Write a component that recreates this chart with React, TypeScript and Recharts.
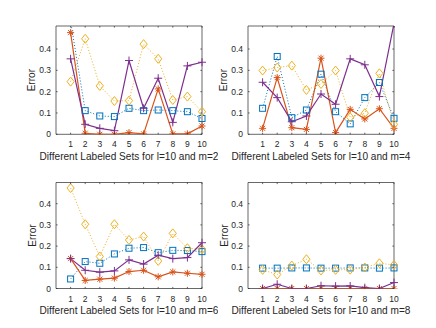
import { Label, Line, LineChart, ReferenceArea, XAxis, YAxis } from "recharts";

const sets = [1, 2, 3, 4, 5, 6, 7, 8, 9, 10];
const xTicks = [1, 2, 3, 4, 5, 6, 7, 8, 9, 10];
const yTicks = [0, 0.1, 0.2, 0.3, 0.4];

// m=2
const squareM2 = [0.53, 0.111, 0.086, 0.083, 0.122, 0.111, 0.114, 0.111, 0.106, 0.074];
const asteriskM2 = [0.477, 0.005, 0, 0, 0.008, 0.002, 0.213, 0.002, 0.002, 0.039];
const diamondM2 = [0.247, 0.448, 0.227, 0.156, 0.158, 0.423, 0.354, 0.161, 0.177, 0.106];
const plusM2 = [0.354, 0.047, 0.028, 0.017, 0.346, 0.122, 0.263, 0.056, 0.321, 0.338];

// m=4
const squareM4 = [0.122, 0.365, 0.078, 0.114, 0.282, 0.106, 0.049, 0.172, 0.243, 0.075];
const asteriskM4 = [0.028, 0.266, 0.031, 0.023, 0.357, 0.008, 0.117, 0.072, 0.12, 0.028];
const diamondM4 = [0.299, 0.313, 0.322, 0.208, 0.236, 0.299, 0.08, 0.099, 0.286, 0.047];
const plusM4 = [0.244, 0.172, 0.059, 0.086, 0.189, 0.141, 0.354, 0.326, 0.177, 0.52];

// m=6
const squareM6 = [0.045, 0.127, 0.119, 0.163, 0.19, 0.193, 0.169, 0.18, 0.179, 0.174];
const asteriskM6 = [0.141, 0.038, 0.044, 0.049, 0.08, 0.086, 0.055, 0.078, 0.072, 0.067];
const diamondM6 = [0.474, 0.303, 0.151, 0.303, 0.229, 0.245, 0.13, 0.26, 0.19, 0.185];
const plusM6 = [0.141, 0.086, 0.077, 0.083, 0.135, 0.115, 0.157, 0.141, 0.146, 0.216];

// m=8
const squareM8 = [0.096, 0.096, 0.097, 0.097, 0.096, 0.096, 0.097, 0.097, 0.096, 0.097];
const asteriskM8 = [0, 0, 0, 0, 0, 0, 0, 0, 0, 0];
const diamondM8 = [0.088, 0.066, 0.108, 0.138, 0.085, 0.088, 0.089, 0.099, 0.119, 0.111];
const plusM8 = [0, 0.02, 0, 0, 0.013, 0.011, 0.012, 0.004, 0, 0.028];

const BLUE = "#0072BD";
const ORANGE = "#D95319";
const YELLOW = "#EDB120";
const PURPLE = "#7E2F8E";
const INK = "#262626";
const FONT = '"Liberation Sans", Arial, Helvetica, sans-serif';

const Y_AXIS_W = 56;
const PLOT_W = 146;

function SquareDot(props: any) {
  const { cx, cy, index } = props;
  return (
    <rect key={`sq-${index}`} x={cx - 3} y={cy - 3} width={6} height={6}
      fill="none" stroke={BLUE} strokeWidth={1} />
  );
}

function AsteriskDot(props: any) {
  const { cx, cy, index } = props;
  const r = 3.5;
  const d = r * 0.72;
  return (
    <g key={`as-${index}`} stroke={ORANGE} strokeWidth={1}>
      <line x1={cx - r} y1={cy} x2={cx + r} y2={cy} />
      <line x1={cx} y1={cy - r} x2={cx} y2={cy + r} />
      <line x1={cx - d} y1={cy - d} x2={cx + d} y2={cy + d} />
      <line x1={cx - d} y1={cy + d} x2={cx + d} y2={cy - d} />
    </g>
  );
}

function DiamondDot(props: any) {
  const { cx, cy, index } = props;
  return (
    <path key={`di-${index}`}
      d={`M${cx},${cy - 4.5}L${cx + 3.6},${cy}L${cx},${cy + 4.5}L${cx - 3.6},${cy}Z`}
      fill="none" stroke={YELLOW} strokeWidth={1} />
  );
}

function PlusDot(props: any) {
  const { cx, cy, index } = props;
  const r = 4;
  return (
    <g key={`pl-${index}`} stroke={PURPLE} strokeWidth={1}>
      <line x1={cx - r} y1={cy} x2={cx + r} y2={cy} />
      <line x1={cx} y1={cy - r} x2={cx} y2={cy + r} />
    </g>
  );
}

type PanelProps = {
  left: number;
  top: number;
  width: number;
  height: number;
  plotTop: number;
  plotH: number;
  yMax: number;
  m: number;
  square: number[];
  asterisk: number[];
  diamond: number[];
  plus: number[];
};

function Panel(p: PanelProps) {
  const rows = sets.map((s, i) => ({
    set: s,
    square: p.square[i],
    asterisk: p.asterisk[i],
    diamond: p.diamond[i],
    plus: p.plus[i],
  }));
  const xAxisH = p.height - p.plotTop - p.plotH;
  const rightMargin = p.width - Y_AXIS_W - PLOT_W;
  const plotBottom = p.plotTop + p.plotH;

  const xTick = (t: any) => (
    <g>
      <line x1={t.x} x2={t.x} y1={t.y} y2={t.y - 1.6} stroke={INK} strokeWidth={0.7} />
      <line x1={t.x} x2={t.x} y1={p.plotTop} y2={p.plotTop + 1.6} stroke={INK} strokeWidth={0.7} />
      <text x={t.x} y={t.y + 13} textAnchor="middle" fontSize={8.5} fontFamily={FONT} fill={INK}>
        {t.payload.value}
      </text>
    </g>
  );

  const yTick = (t: any) => (
    <g>
      <line x1={t.x} x2={t.x + 1.6} y1={t.y} y2={t.y} stroke={INK} strokeWidth={0.7} />
      <line x1={t.x + PLOT_W - 1.6} x2={t.x + PLOT_W} y1={t.y} y2={t.y} stroke={INK} strokeWidth={0.7} />
      <text x={t.x - 5} y={t.y + 3} textAnchor="end" fontSize={8.5} fontFamily={FONT} fill={INK}>
        {t.payload.value === 0 ? "0" : String(t.payload.value)}
      </text>
    </g>
  );

  const xLabel = () => (
    <text x={Y_AXIS_W + PLOT_W / 2} y={plotBottom + 25.7} textAnchor="middle"
      fontSize={10.1} fontFamily={FONT} fill={INK}>
      {`Different Labeled Sets for l=10 and m=${p.m}`}
    </text>
  );

  const yLabel = () => {
    const cx = 32;
    const cy = p.plotTop + p.plotH / 2;
    return (
      <text x={cx} y={cy} transform={`rotate(-90 ${cx} ${cy})`} textAnchor="middle"
        dominantBaseline="central" fontSize={10.1} fontFamily={FONT} fill={INK}>
        Error
      </text>
    );
  };

  return (
    <div style={{ position: "absolute", left: p.left, top: p.top }}>
      <LineChart width={p.width} height={p.height} data={rows}
        margin={{ top: p.plotTop, right: rightMargin, bottom: 0, left: 0 }}>
        <XAxis type="number" dataKey="set" domain={[0, 10]} ticks={xTicks} interval={0}
          height={xAxisH} axisLine={false} tickLine={false} tickSize={0} tickMargin={0} tick={xTick}>
          <Label content={xLabel} />
        </XAxis>
        <YAxis type="number" domain={[0, p.yMax]} ticks={yTicks} interval={0} allowDataOverflow
          width={Y_AXIS_W} axisLine={false} tickLine={false} tickSize={0} tickMargin={0} tick={yTick}>
          <Label content={yLabel} />
        </YAxis>
        <ReferenceArea x1={0} x2={10} y1={0} y2={p.yMax} fill="none" stroke={INK} strokeWidth={0.7} />
        <Line type="linear" dataKey="square" stroke={BLUE} strokeWidth={1} strokeDasharray="1 2"
          dot={SquareDot} activeDot={false} isAnimationActive={false} />
        <Line type="linear" dataKey="asterisk" stroke={ORANGE} strokeWidth={1.2}
          dot={AsteriskDot} activeDot={false} isAnimationActive={false} />
        <Line type="linear" dataKey="diamond" stroke={YELLOW} strokeWidth={1} strokeDasharray="1 2"
          dot={DiamondDot} activeDot={false} isAnimationActive={false} />
        <Line type="linear" dataKey="plus" stroke={PURPLE} strokeWidth={1.2}
          dot={PlusDot} activeDot={false} isAnimationActive={false} />
      </LineChart>
    </div>
  );
}

export default function App() {
  return (
    <div style={{ position: "absolute", left: 0, top: 0, width: 436, height: 328, background: "#fff" }}>
      <Panel left={0} top={0} width={218} height={170} plotTop={26} plotH={108.3} yMax={0.508} m={2}
        square={squareM2} asterisk={asteriskM2} diamond={diamondM2} plus={plusM2} />
      <Panel left={192} top={0} width={244} height={170} plotTop={26} plotH={108.3} yMax={0.508} m={4}
        square={squareM4} asterisk={asteriskM4} diamond={diamondM4} plus={plusM4} />
      <Panel left={0} top={160} width={218} height={168} plotTop={22.5} plotH={106} yMax={0.5} m={6}
        square={squareM6} asterisk={asteriskM6} diamond={diamondM6} plus={plusM6} />
      <Panel left={192} top={160} width={244} height={168} plotTop={22.5} plotH={106} yMax={0.5} m={8}
        square={squareM8} asterisk={asteriskM8} diamond={diamondM8} plus={plusM8} />
    </div>
  );
}
